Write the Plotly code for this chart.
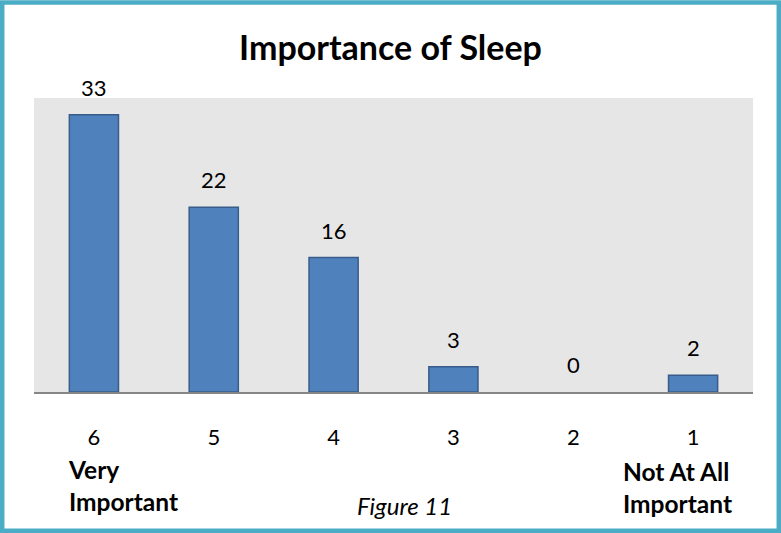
import plotly.graph_objects as go

categories = ["6", "5", "4", "3", "2", "1"]
values = [33, 22, 16, 3, 0, 2]
title_text = "Importance of Sleep"
left_note = "Very<br>Important"
right_note = "Not At All<br>Important"
caption = "Figure 11"

W, H = 781, 533
L, R, T, B = 34, 28, 98, 141
PW, PH = W - L - R, H - T - B

def px(x):
    return (x - L) / PW

def py(y):
    return (H - B - y) / PH

FONT = "Lato, 'Open Sans', sans-serif"

fig = go.Figure()
fig.add_trace(go.Bar(
    x=categories, y=values,
    marker=dict(color="#4F81BD",
                line=dict(color="#385D8A", width=[1.5 if v > 0 else 0 for v in values])),
    hoverinfo="skip",
))

for i, v in enumerate(values):
    fig.add_annotation(x=i, y=v, xref="x", yref="y", text=str(v), showarrow=False,
                       yanchor="bottom", yshift=12,
                       font=dict(family=FONT, size=22, color="#000000"))

fig.add_annotation(x=px(66), y=py(485), xref="paper", yref="paper", text="<b>" + left_note + "</b>",
                   showarrow=False, xanchor="left", yanchor="middle", align="left",
                   font=dict(family=FONT, size=24.5, color="#000000"))
fig.add_annotation(x=px(621), y=py(487), xref="paper", yref="paper", text="<b>" + right_note + "</b>",
                   showarrow=False, xanchor="left", yanchor="middle", align="left",
                   font=dict(family=FONT, size=24.5, color="#000000"))
fig.add_annotation(x=px(404), y=py(505), xref="paper", yref="paper", text="<i>" + caption + "</i>",
                   showarrow=False, xanchor="center", yanchor="middle",
                   font=dict(family=FONT, size=24, color="#000000"))

# outer border
fig.add_shape(type="rect", xref="paper", yref="paper",
              x0=px(2.2), x1=px(778.8), y0=py(2.5), y1=py(530.8),
              line=dict(color="#4BACC6", width=4.5), fillcolor="rgba(0,0,0,0)", layer="above")

fig.update_layout(
    width=W, height=H,
    margin=dict(l=L, r=R, t=T, b=B),
    paper_bgcolor="#FFFFFF",
    plot_bgcolor="#E6E6E6",
    bargap=0.59,
    showlegend=False,
    title=dict(text="<b>" + title_text + "</b>", x=0.5, xref="container", xanchor="center",
               y=1 - 48 / H, yref="container", yanchor="middle",
               font=dict(family=FONT, size=34, color="#000000")),
    xaxis=dict(type="category", showgrid=False, zeroline=False, showline=True,
               linecolor="#868686", linewidth=2, ticks="", ticklabelstandoff=25,
               tickfont=dict(family=FONT, size=22, color="#000000")),
    yaxis=dict(range=[0, 35], showgrid=False, zeroline=False, showline=False,
               showticklabels=False, ticks=""),
)

fig.write_html("out.html", config={"displayModeBar": False},
               post_script="document.body.style.margin='0';")
